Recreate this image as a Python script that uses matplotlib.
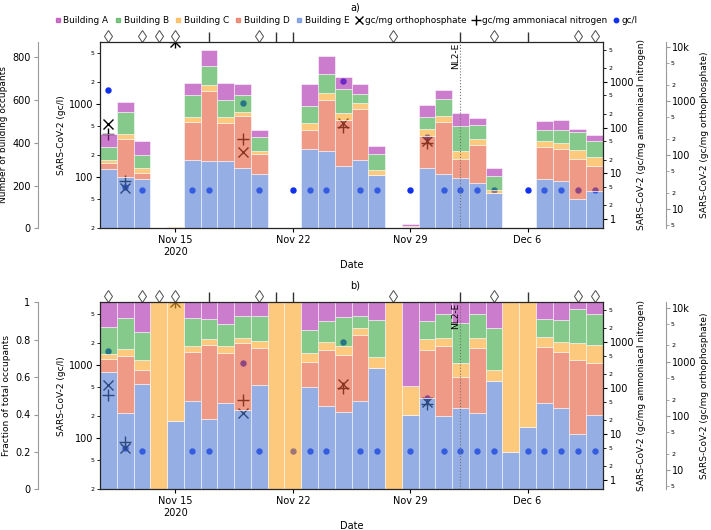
import numpy as np
import pandas as pd
import matplotlib
matplotlib.use("Agg")
import matplotlib.pyplot as plt
from matplotlib.ticker import LogLocator, FuncFormatter, NullLocator, FixedLocator
from matplotlib.lines import Line2D

plt.rcParams["font.family"] = ["DejaVu Sans"]

# ---- data ----
dates = pd.date_range("2020-11-11", "2020-12-10", freq="D")

bld_a = [59, 48, 65, 0, 0, 56, 76, 78, 50, 34, 0, 0, 101, 81, 55, 48, 36, 0, 9, 59,
         42, 59, 33, 39, 0, 0, 44, 47, 16, 27]
bld_b = [62, 100, 61, 0, 0, 103, 86, 81, 78, 62, 0, 0, 81, 90, 111, 44, 76, 0, 0, 53,
         80, 117, 65, 64, 0, 0, 50, 61, 86, 73]
bld_c = [12, 22, 22, 3, 7, 20, 27, 25, 19, 17, 3, 3, 34, 34, 34, 25, 23, 3, 3, 34,
         31, 39, 28, 17, 4, 2, 27, 27, 41, 42]
bld_d = [31, 178, 31, 0, 0, 179, 331, 181, 242, 90, 0, 0, 90, 240, 214, 240, 0, 0, 0, 150,
         242, 89, 178, 0, 0, 0, 150, 150, 184, 120]
bld_e = [276, 242, 229, 0, 4, 320, 313, 313, 284, 256, 0, 0, 369, 360, 293, 320, 248, 0, 8, 282,
         253, 235, 210, 164, 1, 1, 232, 221, 139, 173]

gcl_dates = ["2020-11-11", "2020-11-12", "2020-11-13", "2020-11-16", "2020-11-17", "2020-11-19",
             "2020-11-20", "2020-11-22", "2020-11-23", "2020-11-24", "2020-11-25", "2020-11-26",
             "2020-11-27", "2020-11-29", "2020-11-30", "2020-12-01", "2020-12-02", "2020-12-03",
             "2020-12-04", "2020-12-06", "2020-12-07", "2020-12-08", "2020-12-09", "2020-12-10"]
gcl_vals = [1570, 73, 67, 67, 67, 1050, 67, 67, 67, 67, 2080, 67, 67, 67, 353, 67, 67, 67,
            67, 67, 67, 67, 67, 67]

norm_dates = ["2020-11-11", "2020-11-12", "2020-11-15", "2020-11-19", "2020-11-25", "2020-11-30"]
nh_vals = [71, 6.9, 7400, 55, 103, 45]        # gc/mg ammoniacal nitrogen
po_vals = [375, 25, 12500, 115, 392, 181]     # gc/mg orthophosphate

diamond_dates = ["2020-11-11", "2020-11-13", "2020-11-14", "2020-11-15", "2020-11-20",
                 "2020-11-28", "2020-12-04", "2020-12-09", "2020-12-10"]
bar_dates = ["2020-11-17", "2020-11-21", "2020-11-22", "2020-12-02", "2020-12-06"]

buildings = ["Building A", "Building B", "Building C", "Building D", "Building E"]
colors = {"Building A": "#aa25aa", "Building B": "#34a53e", "Building C": "#fda525",
          "Building D": "#e45737", "Building E": "#4e7bd4"}
dot_color = "#1030f0"

counts = pd.DataFrame({"Building A": bld_a, "Building B": bld_b, "Building C": bld_c,
                       "Building D": bld_d, "Building E": bld_e}, index=dates)
fractions = counts.div(counts.sum(axis=1), axis=0)


def fmt_major(v, pos=None):
    if v >= 10000:
        return f"{v / 1000:g}k"
    return f"{v:g}"


def fmt_minor(v, pos=None):
    m = v / 10 ** np.floor(np.log10(v))
    return f"{int(round(m))}"


def log_axis(a):
    a.set_yscale("log")
    a.yaxis.set_major_locator(LogLocator(base=10, numticks=12))
    a.yaxis.set_minor_locator(LogLocator(base=10, subs=(2.0, 5.0), numticks=12))
    a.yaxis.set_major_formatter(FuncFormatter(fmt_major))
    a.yaxis.set_minor_formatter(FuncFormatter(fmt_minor))
    a.tick_params(axis="y", which="major", labelsize=7, length=3, pad=2)
    a.tick_params(axis="y", which="minor", labelsize=4.5, length=2, pad=2)


def panel(rect, occ, occ_label, occ_ticks, occ_ticklabels, occ_ylim):
    ax = fig.add_axes(rect)
    ax_nh = ax.twinx()
    ax_po = ax.twinx()
    ax_occ = ax.twinx()

    # gc/l
    ax.plot(pd.to_datetime(gcl_dates), gcl_vals, "o", color=dot_color, ms=3.6, ls="none")
    log_axis(ax)
    ax.set_ylim(20, 7200)
    ax.set_ylabel("SARS-CoV-2 (gc/l)", fontsize=6.5, labelpad=2)

    ax_nh.plot(pd.to_datetime(norm_dates), nh_vals, "+", color="k", ms=9, mew=1, ls="none")
    log_axis(ax_nh)
    ax_nh.set_ylim(0.637, 7400)
    ax_nh.set_ylabel("SARS-CoV-2 (gc/mg ammoniacal nitrogen)", fontsize=6.5, labelpad=2)

    ax_po.plot(pd.to_datetime(norm_dates), po_vals, "x", color="k", ms=7, mew=1, ls="none")
    log_axis(ax_po)
    ax_po.set_ylim(4.4, 12500)
    ax_po.set_ylabel("SARS-CoV-2 (gc/mg orthophosphate)", fontsize=6.5, labelpad=2)

    # stacked building bars, drawn on top with transparency
    bottom = np.zeros(len(dates))
    for b in buildings[::-1]:
        vals = occ[b].values
        ax_occ.bar(dates, vals, width=1, bottom=bottom, color=colors[b], alpha=0.6,
                   edgecolor="white", linewidth=0.6)
        bottom += vals
    ax_occ.yaxis.tick_left()
    ax_occ.yaxis.set_label_position("left")
    ax_occ.set_ylim(*occ_ylim)
    ax_occ.set_yticks(occ_ticks)
    ax_occ.set_yticklabels(occ_ticklabels)
    ax_occ.tick_params(axis="y", labelsize=7, length=3, color="0.6", pad=2)
    ax_occ.set_ylabel(occ_label, fontsize=6.5, labelpad=3)

    # spines
    for a in (ax, ax_nh, ax_po, ax_occ):
        for s in a.spines.values():
            s.set_visible(False)
    ax_occ.spines["left"].set_visible(True)
    ax_occ.spines["left"].set_position(("outward", 45))
    ax_occ.spines["left"].set_color("0.6")
    ax_po.spines["right"].set_visible(True)
    ax_po.spines["right"].set_position(("outward", 45))
    ax_po.spines["right"].set_color("0.6")
    ax_po.tick_params(axis="y", which="both", color="0.6")
    for s in ("top", "bottom"):
        ax_occ.spines[s].set_visible(True)
        ax_occ.spines[s].set_color("0.15")
        ax_occ.spines[s].set_linewidth(0.9)
    for xx in (0, 1):
        ax_occ.plot([xx, xx], [0, 1], transform=ax_occ.transAxes, color="0.15", lw=0.9,
                    clip_on=False, zorder=6)

    # NL2-E marker
    nl2 = pd.Timestamp("2020-12-02")
    ax_occ.axvline(nl2, color="0.45", ls=":", lw=0.8, zorder=5)
    ax_occ.text(nl2, 0.995, "NL2-E", rotation=90, ha="right", va="top", fontsize=6.5,
                transform=ax_occ.get_xaxis_transform(), zorder=6)

    # symbols above the frame
    tr = ax_occ.get_xaxis_transform()
    ax_occ.plot(pd.to_datetime(diamond_dates), [1.033] * len(diamond_dates), transform=tr,
                marker="d", ms=6, mfc="none", mec="0.3", mew=0.7, ls="none", clip_on=False)
    ax_occ.plot(pd.to_datetime(bar_dates), [1.026] * len(bar_dates), transform=tr,
                marker="|", ms=7, mec="0.2", mew=1, ls="none", clip_on=False)

    # x axis
    ax.set_xlim(pd.Timestamp("2020-11-10 12:00"), pd.Timestamp("2020-12-10 12:00"))
    ax.xaxis.set_major_locator(FixedLocator(
        [matplotlib.dates.date2num(pd.Timestamp(d)) for d in
         ["2020-11-15", "2020-11-22", "2020-11-29", "2020-12-06"]]))
    ax.xaxis.set_major_formatter(FuncFormatter(
        lambda v, p: ["Nov 15\n2020", "Nov 22", "Nov 29", "Dec 6"][p] if p is not None and p < 4 else ""))
    ax.xaxis.set_minor_locator(NullLocator())
    ax.tick_params(axis="x", labelsize=7, length=3, pad=2)
    ax.set_xlabel("Date", fontsize=7, labelpad=2)
    return ax


fig = plt.figure(figsize=(7.11, 5.30), dpi=100)

panel([100 / 711, 1 - 228.3 / 530, 503 / 711, 186.6 / 530], counts,
      "Number of building occupants", [0, 200, 400, 600, 800],
      ["0", "200", "400", "600", "800"], (0, 873))
panel([100 / 711, 1 - 489.3 / 530, 503 / 711, 187 / 530], fractions,
      "Fraction of total occupants", [0, 0.2, 0.4, 0.6, 0.8, 1.0],
      ["0", "0.2", "0.4", "0.6", "0.8", "1"], (0, 1))

fig.text(0.5, 1 - 8 / 530, "a)", ha="center", va="center", fontsize=7)
fig.text(0.5, 1 - 285 / 530, "b)", ha="center", va="center", fontsize=7)

handles = [Line2D([], [], marker="s", ls="none", color=colors[b], alpha=0.6, ms=3.2)
           for b in buildings]
handles += [Line2D([], [], marker="x", ls="none", color="k", ms=5.5, mew=1),
            Line2D([], [], marker="+", ls="none", color="k", ms=7.5, mew=1),
            Line2D([], [], marker="o", ls="none", color=dot_color, ms=3.2)]
labels = buildings + ["gc/mg orthophosphate", "gc/mg ammoniacal nitrogen", "gc/l"]
fig.legend(handles, labels, loc="center", bbox_to_anchor=(0.487, 1 - 20.5 / 530), ncol=8,
           frameon=False, fontsize=6.4, handlelength=0.7, handletextpad=0.3,
           columnspacing=0.7, borderaxespad=0, borderpad=0)

fig.savefig("out.png", dpi=100)
